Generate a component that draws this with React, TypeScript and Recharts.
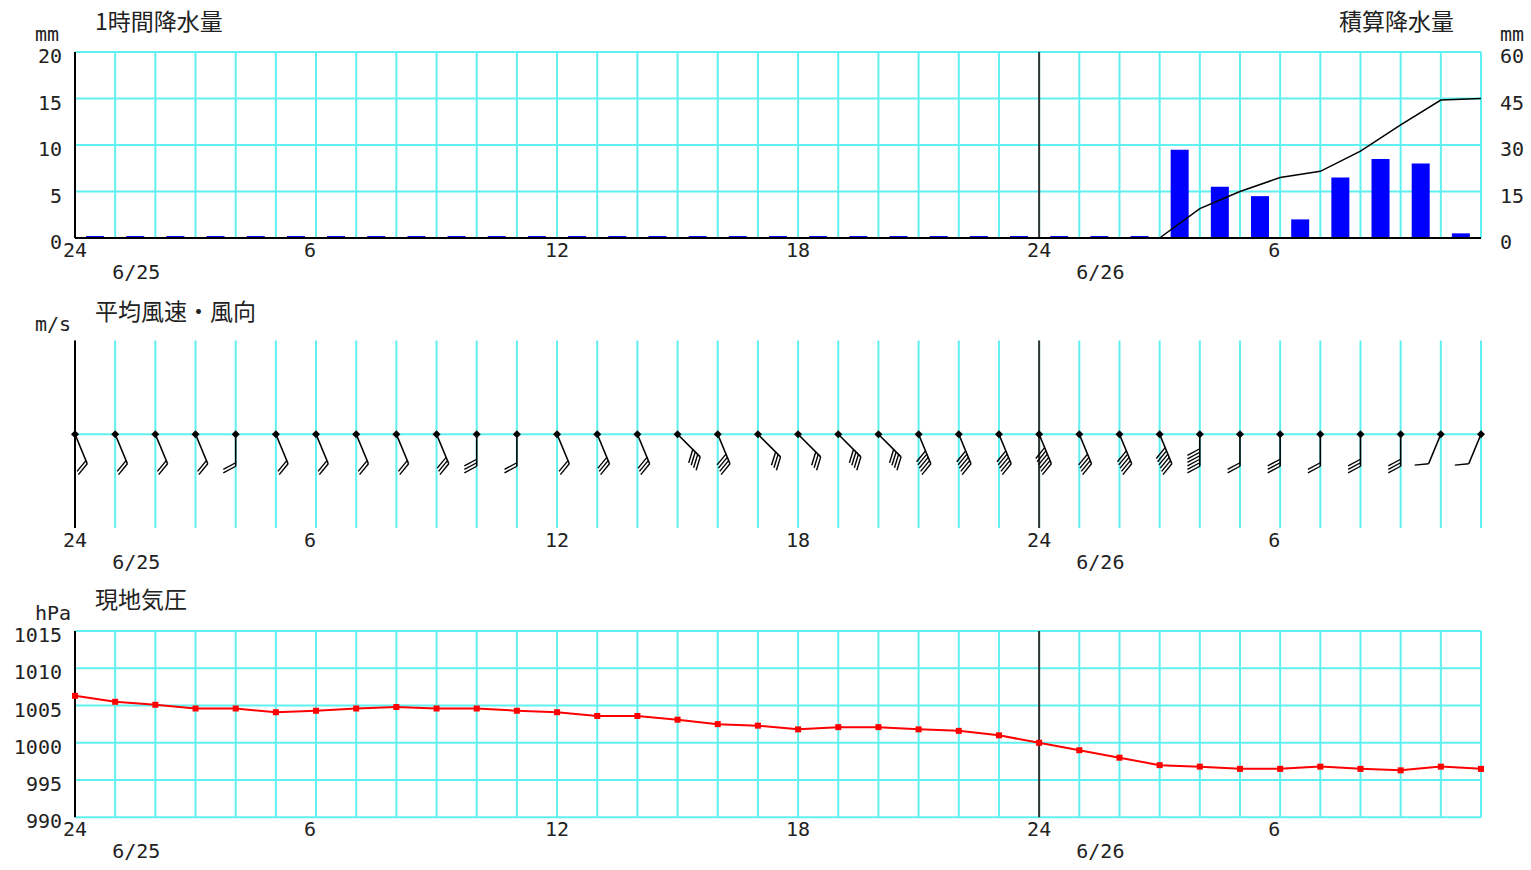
import React from 'react';
import { ComposedChart, Bar, Line, Scatter, XAxis, YAxis, CartesianGrid, ReferenceLine } from 'recharts';

// hour of each grid column, 6/25 0時 ("24") .. 6/26 11時
const hourLabels = [
  '24', '1', '2', '3', '4', '5', '6', '7', '8', '9', '10', '11',
  '12', '13', '14', '15', '16', '17', '18', '19', '20', '21', '22', '23',
  '24', '1', '2', '3', '4', '5', '6', '7', '8', '9', '10', '11',
];
const shownHours = ['24', '6', '12', '18'];
const dateMarks = [
  { at: 1, text: '6/25' },
  { at: 25, text: '6/26' },
];

// 1時間降水量 (mm), one bar per hour slot
const rain1h = [
  0, 0, 0, 0, 0, 0, 0, 0, 0, 0, 0, 0, 0, 0, 0, 0, 0, 0, 0, 0, 0, 0, 0, 0, 0, 0, 0,
  9.5, 5.5, 4.5, 2, 6.5, 8.5, 8, 0.5,
];
// 積算降水量 (mm) from 6/26 3時
const rainCumStart = 27;
const rainCum = [0, 9.5, 15, 19.5, 21.5, 28, 36.5, 44.5, 45];

// 風向 / 平均風速 (m/s)
const windDir = [
  '南南東', '南南東', '南南東', '南南東', '南', '南南東', '南南東', '南南東', '南南東', '南南東', '南', '南',
  '南南東', '南南東', '南南東', '南東', '南南東', '南東', '南東', '南東', '南東', '南南東', '南南東', '南南東',
  '南南東', '南南東', '南南東', '南南東', '南', '南', '南', '南', '南', '南', '南南西', '南南西',
];
const windSpeed = [
  2, 2, 2, 2, 2, 2, 2, 2, 2, 3, 3, 2,
  2, 3, 3, 4, 4, 3, 3, 4, 4, 5, 5, 5,
  6, 4, 5, 6, 6, 2, 3, 2, 3, 3, 1, 1,
];

// 現地気圧 (hPa)
const pressure = [
  1006.3, 1005.5, 1005.1, 1004.6, 1004.6, 1004.1, 1004.3, 1004.6, 1004.8, 1004.6, 1004.6, 1004.3,
  1004.1, 1003.6, 1003.6, 1003.1, 1002.5, 1002.3, 1001.8, 1002.1, 1002.1, 1001.8, 1001.6, 1001.0,
  1000.0, 999.0, 998.0, 997.0, 996.8, 996.5, 996.5, 996.8, 996.5, 996.3, 996.8, 996.5,
];

const DIR_DEG: Record<string, number> = { 南東: 135, 南南東: 157.5, 南: 180, 南南西: 202.5 };

const hourTicks = hourLabels.map((_, i) => i);
const rainBars = rain1h.map((v, i) => ({ x: i + 0.5, rain: v }));
const rainCumData = rainCum.map((v, i) => ({ x: rainCumStart + i, cum: v }));
const windData = windDir.map((d, i) => ({ x: i, y: 0, dir: d, speed: windSpeed[i] }));
const pressureData = pressure.map((v, i) => ({ x: i, hpa: v }));

const CYAN = '#60f0f0';
const NUM_FONT = 'DejaVu Sans Mono';
const JP_FONT = 'Noto Sans CJK JP';
const W = 1531;

const HourTick = (props: any) => {
  const { x, y, payload } = props;
  const i = payload.value;
  const h = hourLabels[i];
  const date = dateMarks.find((d) => d.at === i);
  return (
    <g>
      {shownHours.includes(h) && (
        <text x={x - 12} y={y + 19} fontFamily={NUM_FONT} fontSize={20} fill="#222">
          {h}
        </text>
      )}
      {date && (
        <text x={x - 3} y={y + 41} fontFamily={NUM_FONT} fontSize={20} fill="#222">
          {date.text}
        </text>
      )}
    </g>
  );
};

const LeftTick = (props: any) => (
  <text x={props.x} y={props.y + 11} textAnchor="end" fontFamily={NUM_FONT} fontSize={20} fill="#222">
    {props.payload.value}
  </text>
);

const RightTick = (props: any) => (
  <text x={props.x} y={props.y + 11} textAnchor="start" fontFamily={NUM_FONT} fontSize={20} fill="#222">
    {props.payload.value}
  </text>
);

// 矢羽根: shaft toward the direction the wind blows from, one feather per m/s
const WindBarb = (props: any) => {
  const { cx, cy, payload } = props;
  const rad = (DIR_DEG[payload.dir] * Math.PI) / 180;
  const ux = Math.sin(rad);
  const uy = -Math.cos(rad);
  const L = 32;
  const a = (62 * Math.PI) / 180;
  const fx = ux * Math.cos(a) - uy * Math.sin(a);
  const fy = ux * Math.sin(a) + uy * Math.cos(a);
  const feathers = [];
  for (let i = 0; i < payload.speed; i++) {
    const sx = cx + ux * (L - i * 3.5);
    const sy = cy + uy * (L - i * 3.5);
    feathers.push(
      <line key={i} x1={sx} y1={sy} x2={sx + fx * 14} y2={sy + fy * 14} stroke="#000" strokeWidth={1.4} />
    );
  }
  return (
    <g>
      <line x1={cx} y1={cy} x2={cx + ux * L} y2={cy + uy * L} stroke="#000" strokeWidth={1.6} />
      {feathers}
      <path d={`M${cx},${cy - 4}L${cx + 4},${cy}L${cx},${cy + 4}L${cx - 4},${cy}Z`} fill="#000" />
    </g>
  );
};

const SquareDot = (props: any) => (
  <rect key={`p-${props.index}`} x={props.cx - 3} y={props.cy - 3} width={6} height={6} fill="#ff0000" />
);

const xAxisProps = {
  type: 'number' as const,
  dataKey: 'x',
  domain: [0, 35],
  ticks: hourTicks,
  interval: 0,
  tick: (p: any) => <HourTick {...p} />,
  tickLine: false,
  tickSize: 0,
  tickMargin: 0,
  height: 40,
};

export default function App() {
  return (
    <div style={{ position: 'absolute', left: 0, top: 0, width: W, height: 870, background: '#fff' }}>
      <ComposedChart width={W} height={290} data={rainBars} margin={{ top: 52, right: 0, bottom: 12, left: 15 }}>
        <CartesianGrid stroke={CYAN} strokeWidth={2} />
        <XAxis {...xAxisProps} axisLine={{ stroke: '#000', strokeWidth: 2 }} />
        <YAxis
          domain={[0, 20]}
          ticks={[0, 5, 10, 15, 20]}
          width={60}
          tick={(p: any) => <LeftTick {...p} />}
          tickLine={false}
          tickSize={0}
          tickMargin={13}
          axisLine={{ stroke: '#000', strokeWidth: 2 }}
        />
        <YAxis
          yAxisId="cum"
          orientation="right"
          domain={[0, 60]}
          ticks={[0, 15, 30, 45, 60]}
          width={50}
          tick={(p: any) => <RightTick {...p} />}
          tickLine={false}
          tickSize={0}
          tickMargin={19}
          axisLine={false}
        />
        <ReferenceLine x={24} stroke="#333" strokeWidth={2} />
        <Bar dataKey="rain" fill="#0000ff" barSize={18} minPointSize={2} isAnimationActive={false} />
        <Line
          yAxisId="cum"
          data={rainCumData}
          dataKey="cum"
          stroke="#000"
          strokeWidth={1.5}
          dot={false}
          type="linear"
          isAnimationActive={false}
        />
      </ComposedChart>

      <ComposedChart width={W} height={290} data={windData} margin={{ top: 50.5, right: 50, bottom: 12, left: 15 }}>
        <CartesianGrid horizontal={false} stroke={CYAN} strokeWidth={2} />
        <XAxis {...xAxisProps} axisLine={false} />
        <YAxis
          type="number"
          dataKey="y"
          domain={[-1, 1]}
          ticks={[0]}
          width={60}
          tick={false}
          tickLine={false}
          axisLine={{ stroke: '#000', strokeWidth: 2 }}
        />
        <ReferenceLine y={0} stroke={CYAN} strokeWidth={2} />
        <ReferenceLine x={24} stroke="#333" strokeWidth={2} />
        <Scatter dataKey="y" shape={(p: any) => <WindBarb {...p} />} isAnimationActive={false} />
      </ComposedChart>

      <ComposedChart width={W} height={290} data={pressureData} margin={{ top: 51, right: 50, bottom: 12.7, left: 15 }}>
        <CartesianGrid stroke={CYAN} strokeWidth={2} />
        <XAxis {...xAxisProps} axisLine={false} />
        <YAxis
          domain={[990, 1015]}
          ticks={[990, 995, 1000, 1005, 1010, 1015]}
          width={60}
          tick={(p: any) => <LeftTick {...p} />}
          tickLine={false}
          tickSize={0}
          tickMargin={13}
          axisLine={{ stroke: '#000', strokeWidth: 2 }}
        />
        <ReferenceLine x={24} stroke="#333" strokeWidth={2} />
        <Line
          dataKey="hpa"
          stroke="#ff0000"
          strokeWidth={2}
          type="linear"
          dot={(p: any) => <SquareDot {...p} />}
          isAnimationActive={false}
        />
      </ComposedChart>

      <svg width={W} height={870} style={{ position: 'absolute', left: 0, top: 0, pointerEvents: 'none' }}>
        <g fontFamily={JP_FONT} fontSize={23} fill="#222">
          <text x={95} y={30}>1時間降水量</text>
          <text x={1339} y={30}>積算降水量</text>
          <text x={95} y={320}>平均風速・風向</text>
          <text x={95} y={608}>現地気圧</text>
        </g>
        <g fontFamily={NUM_FONT} fontSize={20} fill="#222">
          <text x={35} y={41}>mm</text>
          <text x={1500} y={41}>mm</text>
          <text x={35} y={331}>m/s</text>
          <text x={35} y={620}>hPa</text>
        </g>
      </svg>
    </div>
  );
}
